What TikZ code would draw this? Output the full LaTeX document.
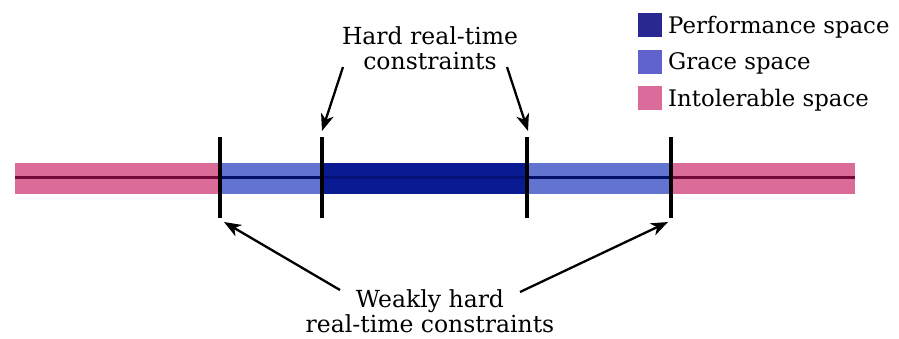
\documentclass[tikz,border=0pt]{standalone}
\usepackage{fontspec}
\setmainfont{DejaVu Serif}
\usetikzlibrary{arrows.meta}
\definecolor{perfc}{HTML}{0A1A92}
\definecolor{gracec}{HTML}{6373D0}
\definecolor{intolc}{HTML}{DB6B98}
\definecolor{perfd}{HTML}{06127A}
\definecolor{graced}{HTML}{021068}
\definecolor{intold}{HTML}{700838}
\definecolor{perfl}{HTML}{282890}
\definecolor{gracel}{HTML}{6262CE}
\definecolor{intoll}{HTML}{DB6B9A}
\tikzset{
  lbl/.style={font=\fontsize{23.5}{25}\selectfont, align=center, inner sep=0pt},
  legtext/.style={font=\fontsize{22.8}{25}\selectfont, anchor=base west, inner sep=0pt},
  legbox/.style={minimum size=24pt, inner sep=0pt, anchor=north west},
  tickmark/.style={line width=3.8pt},
  arr/.style={line width=2.3pt, -{Stealth[length=17pt,width=13pt,inset=5pt]}},
  midline/.style={line width=3.2pt}
}
\begin{document}
\begin{tikzpicture}[x=1pt,y=-1pt]
\useasboundingbox (0,0) rectangle (899,338);
% bands
\fill[intolc] (15,162.5) rectangle (220,193.5);
\fill[gracec] (220,162.5) rectangle (322,193.5);
\fill[perfc] (322,162.5) rectangle (527,193.5);
\fill[gracec] (527,162.5) rectangle (671,193.5);
\fill[intolc] (671,162.5) rectangle (855,193.5);
\draw[midline, intold] (15,177.5) -- (220,177.5);
\draw[midline, graced] (220,177.5) -- (322,177.5);
\draw[midline, perfd] (322,177.5) -- (527,177.5);
\draw[midline, graced] (527,177.5) -- (671,177.5);
\draw[midline, intold] (671,177.5) -- (855,177.5);
% ticks
\coordinate (t1a) at (220,137); \coordinate (t1b) at (220,218);
\coordinate (t2a) at (322,137); \coordinate (t2b) at (322,218);
\coordinate (t3a) at (527,137); \coordinate (t3b) at (527,218);
\coordinate (t4a) at (671,137); \coordinate (t4b) at (671,218);
\draw[tickmark] (t1a) -- (t1b);
\draw[tickmark] (t2a) -- (t2b);
\draw[tickmark] (t3a) -- (t3b);
\draw[tickmark] (t4a) -- (t4b);
% labels
\node[lbl] (hard) at (430,48.5) {Hard real-time\\constraints};
\node[lbl] (weak) at (430,311.5) {Weakly hard\\real-time constraints};
\coordinate (h1s) at (343,67); \coordinate (h1e) at (322,131);
\coordinate (h2s) at (507,67); \coordinate (h2e) at (528,131);
\coordinate (w1s) at (340,290); \coordinate (w1e) at (224,222);
\coordinate (w2s) at (520,292); \coordinate (w2e) at (668,222);
\draw[arr] (h1s) -- (h1e);
\draw[arr] (h2s) -- (h2e);
\draw[arr] (w1s) -- (w1e);
\draw[arr] (w2s) -- (w2e);
% legend
\node[legbox, fill=perfl] (lp) at (638,13) {};
\node[legbox, fill=gracel] (lg) at (638,49.5) {};
\node[legbox, fill=intoll] (li) at (638,86) {};
\node[legtext] (tp) at (668,33) {Performance space};
\node[legtext] (tg) at (668,69.5) {Grace space};
\node[legtext] (ti) at (668,106) {Intolerable space};
\end{tikzpicture}
\end{document}
